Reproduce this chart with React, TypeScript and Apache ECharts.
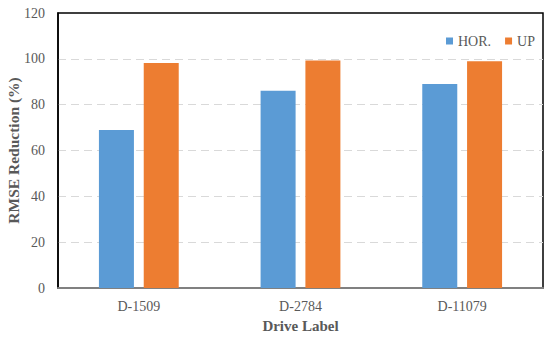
import React, { useEffect, useRef } from "react";
import * as echarts from "echarts";

const categories = ["D-1509", "D-2784", "D-11079"];
const horValues = [69, 86.1, 89];
const upValues = [98.2, 99.3, 98.9];
const yTicks = { min: 0, max: 120, interval: 20 };

const FONT = "Liberation Serif, Times New Roman, serif";

export default function App() {
  const ref = useRef<HTMLDivElement>(null);
  useEffect(() => {
    if (!ref.current) return;
    const chart = echarts.init(ref.current, null, { renderer: "svg" });
    chart.setOption({
      animation: false,
      backgroundColor: "#ffffff",
      textStyle: { fontFamily: FONT },
      legend: {
        left: 441,
        top: 29,
        itemWidth: 7,
        itemHeight: 7,
        itemGap: 14,
        icon: "rect",
        textStyle: { fontFamily: FONT, fontSize: 14, color: "#595959" },
        data: ["HOR.", "UP"],
      },
      grid: {
        left: 58,
        right: 7,
        top: 13,
        bottom: 50,
        containLabel: false,
        outerBoundsMode: "none",
        show: true,
        borderColor: "#000000",
        borderWidth: 1.5,
      },
      xAxis: {
        type: "category",
        data: categories,
        name: "Drive Label",
        nameLocation: "middle",
        nameGap: 30,
        nameMoveOverlap: false,
        nameTextStyle: { fontFamily: FONT, fontSize: 15, fontWeight: "bold", color: "#595959" },
        axisLine: { show: true, lineStyle: { color: "#808080", width: 2 } },
        axisTick: { show: false },
        axisLabel: { fontFamily: FONT, fontSize: 14, color: "#595959", margin: 11 },
      },
      yAxis: {
        type: "value",
        min: yTicks.min,
        max: yTicks.max,
        interval: yTicks.interval,
        name: "RMSE Reduction (%)",
        nameLocation: "middle",
        nameGap: 37,
        nameMoveOverlap: false,
        nameTextStyle: { fontFamily: FONT, fontSize: 15.5, fontWeight: "bold", color: "#595959" },
        axisLine: { show: true, lineStyle: { color: "#000000", width: 1.5 } },
        axisTick: { show: false },
        axisLabel: { fontFamily: FONT, fontSize: 14, color: "#595959", margin: 13 },
        splitLine: {
          showMinLine: false,
          showMaxLine: false,
          lineStyle: { color: "#d9d9d9", type: [8, 5], width: 1 },
        },
      },
      series: [
        {
          name: "HOR.",
          type: "bar",
          data: horValues,
          barWidth: 35,
          barGap: "28%",
          itemStyle: { color: "#5b9bd5" },
        },
        {
          name: "UP",
          type: "bar",
          data: upValues,
          barWidth: 35,
          barGap: "28%",
          itemStyle: { color: "#ed7d31" },
        },
      ],
    });
    return () => chart.dispose();
  }, []);
  return (
    <div
      ref={ref}
      style={{ position: "fixed", left: 0, top: 0, width: 550, height: 338 }}
    />
  );
}
